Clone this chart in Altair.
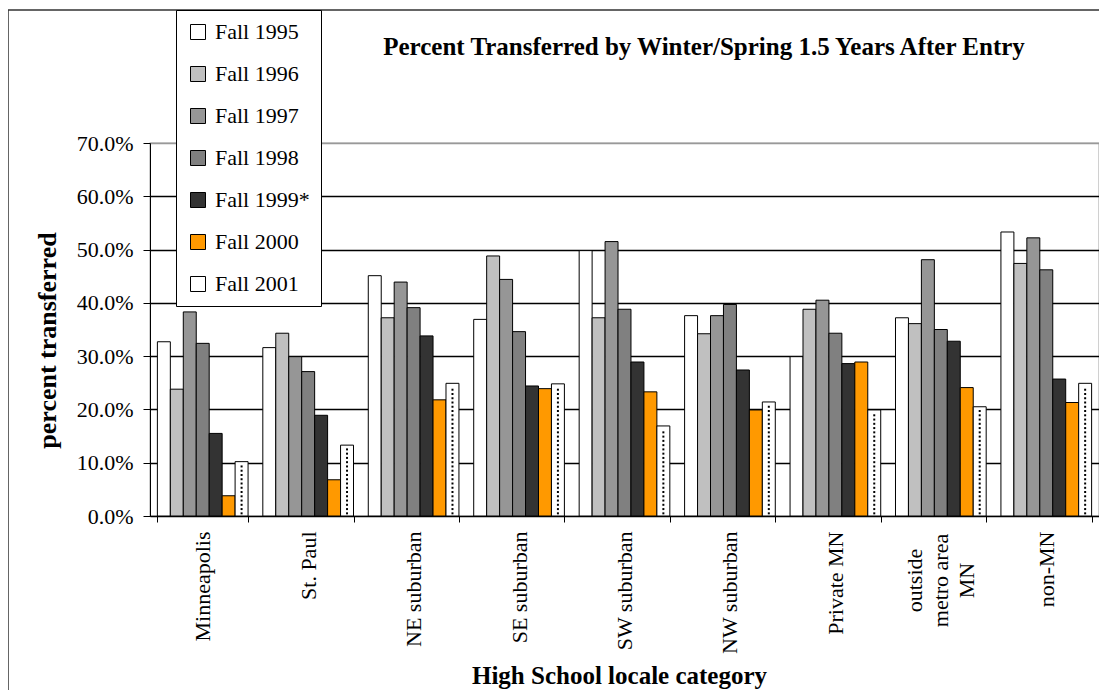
import altair as alt
import pandas as pd

categories = ["Minneapolis", "St. Paul", "NE suburban", "SE suburban", "SW suburban",
              "NW suburban", "Private MN", "outside metro area MN", "non-MN"]
years = ["Fall 1995", "Fall 1996", "Fall 1997", "Fall 1998", "Fall 1999*", "Fall 2000", "Fall 2001"]
colors = ["#FFFFFF", "#C0C0C0", "#969696", "#808080", "#333333", "#FF9900", "#FFFFFF"]

v1995 = [32.7, 31.6, 45.1, 36.9, 49.8, 37.6, 29.9, 37.2, 53.3]
v1996 = [23.8, 34.3, 37.2, 48.8, 37.2, 34.2, 38.8, 36.1, 47.4]
v1997 = [38.3, 29.9, 43.9, 44.4, 51.5, 37.6, 40.5, 48.1, 52.2]
v1998 = [32.4, 27.1, 39.1, 34.6, 38.8, 39.7, 34.3, 35.0, 46.2]
v1999 = [15.5, 18.9, 33.8, 24.4, 28.9, 27.4, 28.6, 32.8, 25.7]
v2000 = [3.8, 6.8, 21.8, 23.9, 23.3, 19.9, 28.9, 24.1, 21.3]
v2001 = [10.2, 13.3, 24.9, 24.8, 16.9, 21.4, 19.9, 20.5, 24.9]
series = [v1995, v1996, v1997, v1998, v1999, v2000, v2001]

title_text = "Percent Transferred by Winter/Spring 1.5 Years After Entry"
y_title = "percent transferred"
x_title = "High School locale category"

rows = []
for yr, vals in zip(years, series):
    for c, v in zip(categories, vals):
        rows.append({"cat": c, "year": yr, "value": v / 100})
df = pd.DataFrame(rows)

# dotted texture for the Fall 2001 bars (derived from the 2001 values)
dots = []
for c, v in zip(categories, v2001):
    k = 0
    p = 0.5
    while p < v - 0.4:
        dots.append({"cat": c, "year": "Fall 2001", "value": p / 100, "side": k % 2})
        p += 0.8
        k += 1
dots_df = pd.DataFrame(dots)

W, H = 949, 373
FONT = "Liberation Serif"
MULTI = "datum.value == 'outside metro area MN'"

x_enc = alt.X("cat:N", sort=categories,
              scale=alt.Scale(domain=categories, paddingInner=0.14, paddingOuter=0.07),
              axis=alt.Axis(
                  title=x_title, titleFont=FONT, titleFontSize=25, titleFontWeight="bold",
                  titleColor="black", titleX=469, titleY=167, titleAlign="center",
                  titleBaseline="alphabetic",
                  labelAngle=270,
                  labelAlign={"condition": {"test": MULTI, "value": "center"}, "value": "right"},
                  labelPadding={"condition": {"test": MULTI, "value": 58}, "value": 9},
                  labelOffset={"condition": {"test": MULTI, "value": -26}, "value": 0},
                  labelBaseline="middle",
                  labelExpr=MULTI + " ? ['outside', 'metro area', 'MN'] : datum.label",
                  labelLineHeight=26,
                  labelFont=FONT, labelFontSize=22, labelColor="black", labelLimit=300,
                  tickBand="extent", tickSize=6, tickColor="black", domainColor="black",
                  grid=False))
xo_enc = alt.XOffset("year:N", sort=years,
                     scale=alt.Scale(domain=years, paddingInner=0, paddingOuter=0))
y_enc = alt.Y("value:Q",
              scale=alt.Scale(domain=[0, 0.7], nice=False),
              axis=alt.Axis(
                  title=y_title, titleFont=FONT, titleFontSize=26, titleFontWeight="bold",
                  titleColor="black", titleAngle=270, titleX=-103, titleY=197,
                  titleAlign="center", titleBaseline="middle",
                  format=".1%", values=[0, 0.1, 0.2, 0.3, 0.4, 0.5, 0.6, 0.7],
                  labelFont=FONT, labelFontSize=22, labelColor="black", labelPadding=10,
                  tickSize=7, tickColor="black", domainColor="black",
                  grid=True,
                  gridColor={"condition": {"test": "datum.value >= 0.7", "value": "#999999"}, "value": "#000000"},
                  gridWidth=1.3))

bars = alt.Chart(df).mark_bar(stroke="black", strokeWidth=1, opacity=1).encode(
    x=x_enc, xOffset=xo_enc, y=y_enc,
    color=alt.Color("year:N", sort=years,
                    scale=alt.Scale(domain=years, range=colors),
                    legend=alt.Legend(orient="none", legendX=26, legendY=-133, title=None,
                                      symbolType="square", symbolSize=225,
                                      symbolStrokeColor="black", symbolStrokeWidth=1,
                                      symbolOpacity=1,
                                      labelFont=FONT, labelFontSize=22, labelColor="black",
                                      labelOffset=6, rowPadding=20, padding=11,
                                      strokeColor="black", fillColor="white"))
)

dots_l = alt.Chart(dots_df).transform_filter("datum.side == 0").mark_square(
    size=4, color="black", opacity=1, dx=-3).encode(
    x=alt.X("cat:N", sort=categories), xOffset=alt.XOffset("year:N", sort=years), y="value:Q")
dots_r = alt.Chart(dots_df).transform_filter("datum.side == 1").mark_square(
    size=4, color="black", opacity=1, dx=2).encode(
    x=alt.X("cat:N", sort=categories), xOffset=alt.XOffset("year:N", sort=years), y="value:Q")

title_df = pd.DataFrame({"t": [title_text]})
title = alt.Chart(title_df).mark_text(font=FONT, fontSize=25, fontWeight="bold",
                                      align="center", baseline="middle", color="black").encode(
    text="t:N", x=alt.value(554), y=alt.value(-96))

border = alt.Chart(title_df).mark_rect(fillOpacity=0, stroke="#333333", strokeWidth=1.5).encode(
    x=alt.value(-142), x2=alt.value(W + 100), y=alt.value(-133), y2=alt.value(H + 300))

chart = alt.layer(border, bars, dots_l, dots_r, title).properties(
    width=W, height=H,
    autosize=alt.AutoSizeParams(type="none"),
    padding={"left": 142, "top": 135, "right": 0, "bottom": 174},
    background="white",
).configure_view(stroke="#999999", strokeWidth=1.3)

chart.save("out.html", embed_options={"renderer": "svg", "actions": False})
